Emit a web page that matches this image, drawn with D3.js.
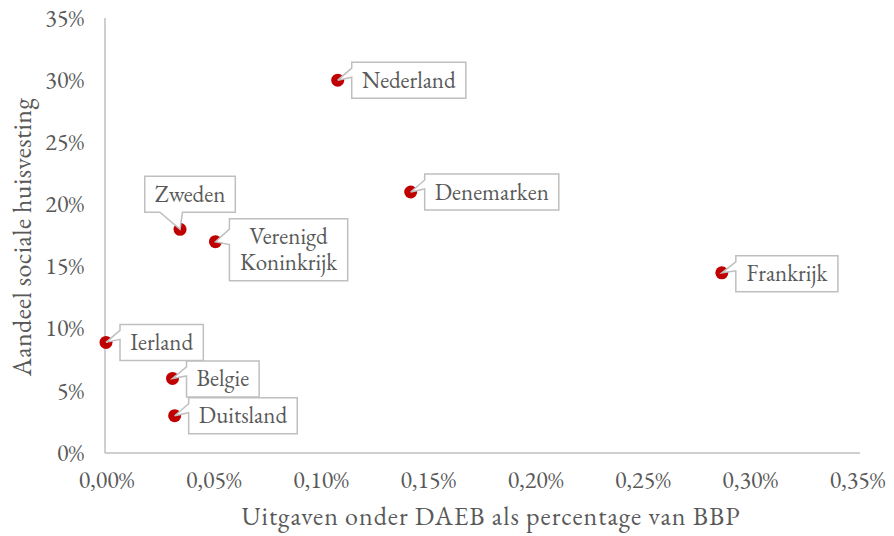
<!DOCTYPE html>
<html>
<head>
<meta charset="utf-8">
<script src="https://cdn.jsdelivr.net/npm/d3@7"></script>
<style>
  html, body { margin: 0; padding: 0; background: #fff; }
</style>
</head>
<body>
<svg id="chart" width="894" height="536"></svg>
<script>
// ---- data ----
const countries = ["Nederland", "Denemarken", "Zweden", "Verenigd Koninkrijk", "Frankrijk", "Ierland", "Belgie", "Duitsland"];
const uitgaven  = [0.108, 0.142, 0.0345, 0.051, 0.287, 0.0, 0.031, 0.032];   // % of BBP
const aandeel   = [30, 21, 18, 17, 14.5, 8.9, 6, 3];                         // % social housing
const xTicks = [0, 0.05, 0.10, 0.15, 0.20, 0.25, 0.30, 0.35];
const yTicks = [0, 5, 10, 15, 20, 25, 30, 35];
const xTitle = "Uitgaven onder DAEB als percentage van BBP";
const yTitle = "Aandeel sociale huisvesting";

// ---- label layout (placement of callouts relative to points) ----
const labelLines = [["Nederland"], ["Denemarken"], ["Zweden"], ["Verenigd", "Koninkrijk"], ["Frankrijk"], ["Ierland"], ["Belgie"], ["Duitsland"]];
const labelSide  = ["right", "right", "above", "right", "right", "right", "right", "right"];
const labelDy    = [0, 0, 0, 8, 1, 0, 0.5, 0];

const FONT = '"EB Garamond", "Liberation Serif", serif';
const FS = 23;      // label font size
const TFS = 24;     // tick font size
const svg = d3.select("#chart");
const x = d3.scaleLinear().domain([0, 0.35]).range([106, 857]);
const y = d3.scaleLinear().domain([0, 35]).range([453, 18]);

const fmtX = d => d.toFixed(2).replace(".", ",") + "%";
const fmtY = d => d + "%";

// axes
const gx = svg.append("g").attr("transform", "translate(0,453)")
  .call(d3.axisBottom(x).tickValues(xTicks).tickSize(0).tickPadding(0).tickFormat(fmtX));
gx.select(".domain").attr("stroke", "#bfbfbf").attr("stroke-width", 1.5).attr("d", "M105,0H860");
gx.selectAll("text").style("font-family", FONT).attr("font-size", TFS).attr("y", 35).attr("dy", "0").attr("fill", "#595959");

const gy = svg.append("g").attr("transform", "translate(105,0)")
  .call(d3.axisLeft(y).tickValues(yTicks).tickSize(0).tickPadding(0).tickFormat(fmtY));
gy.select(".domain").attr("stroke", "#bfbfbf").attr("stroke-width", 1.5).attr("d", "M0,18V453");
gy.selectAll("text").style("font-family", FONT).attr("font-size", TFS).attr("x", -21).attr("dy", "0.3em").attr("fill", "#595959");

// titles
svg.append("text").attr("x", 491).attr("y", 525).attr("text-anchor", "middle").style("font-family", FONT)
  .style("letter-spacing", "1px").attr("font-size", 26).attr("fill", "#595959").text(xTitle);
svg.append("text").attr("transform", "translate(31,237) rotate(-90)").attr("text-anchor", "middle").style("font-family", FONT)
  .style("letter-spacing", "0.4px").attr("font-size", 26).attr("fill", "#595959").text(yTitle);

// points
const pts = countries.map((c, i) => ({ c, px: x(uitgaven[i]), py: y(aandeel[i]), i }));
svg.append("g").selectAll("circle").data(pts).join("circle")
  .attr("cx", d => d.px).attr("cy", d => d.py).attr("r", 6.5).attr("fill", "#c00000");

// Excel-like wedgeRectCallout path
function callout(l, t, w, h, tx, ty) {
  const r = l + w, b = t + h, hc = l + w / 2, vc = t + h / 2;
  const dxPos = tx - hc, dyPos = ty - vc;
  const dq = dxPos * h / w;
  const dz = Math.abs(dyPos) - Math.abs(dq);
  const x1 = l + w * (dxPos > 0 ? 7 : 2) / 12, x2 = l + w * (dxPos > 0 ? 10 : 5) / 12;
  const y1 = t + h * (dyPos > 0 ? 7 : 2) / 12, y2 = t + h * (dyPos > 0 ? 10 : 5) / 12;
  let p = `M${l},${t}`;
  if (dz > 0 && dyPos < 0) p += `L${x1},${t}L${tx},${ty}L${x2},${t}`;
  p += `L${r},${t}`;
  if (dz <= 0 && dxPos > 0) p += `L${r},${y1}L${tx},${ty}L${r},${y2}`;
  p += `L${r},${b}`;
  if (dz > 0 && dyPos > 0) p += `L${x2},${b}L${tx},${ty}L${x1},${b}`;
  p += `L${l},${b}`;
  if (dz <= 0 && dxPos < 0) p += `L${l},${y2}L${tx},${ty}L${l},${y1}`;
  return p + "Z";
}

const lg = svg.append("g");
pts.forEach(d => {
  const lines = labelLines[d.i];
  const g = lg.append("g");
  const path = g.append("path").attr("fill", "#fff").attr("stroke", "#bfbfbf").attr("stroke-width", 1.5);
  const txt = g.append("text").style("font-family", FONT).attr("font-size", FS).attr("text-anchor", "middle").attr("fill", "#595959");
  lines.forEach((s, k) => txt.append("tspan").attr("x", 0).attr("dy", k === 0 ? 0 : 26).text(s));
  const bb = txt.node().getBBox();
  const w = bb.width + 20, h = lines.length === 1 ? 36 : 62;
  let l, t;
  if (labelSide[d.i] === "right") {
    l = d.px + 14; t = d.py + labelDy[d.i] - h / 2;
  } else {
    l = d.px + 10 - w / 2; t = d.py - 17 - h;
  }
  const cx = l + w / 2;
  const firstBase = t + h / 2 - (lines.length - 1) * 13 + 7.5;
  txt.attr("transform", `translate(${cx},${firstBase})`);
  path.attr("d", callout(l, t, w, h, d.px, d.py));
});
</script>
</body>
</html>
